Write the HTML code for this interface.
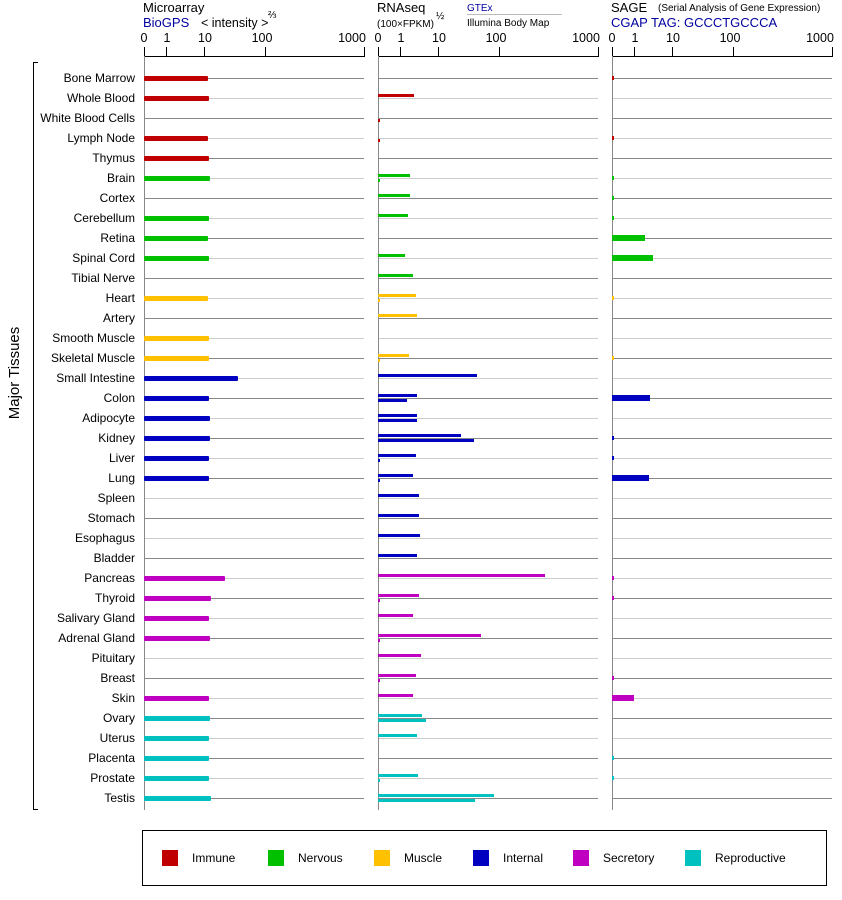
<!DOCTYPE html>
<html><head><meta charset="utf-8"><style>
html,body{margin:0;padding:0;background:#fff;}
svg{display:block;font-family:"Liberation Sans",Arial,sans-serif;}
.l{font-size:12px;text-anchor:end;fill:#000}
</style></head><body>
<svg width="842" height="900" viewBox="0 0 842 900">
<!-- headers -->
<text x="143" y="12" font-size="13">Microarray</text>
<text x="143" y="27" font-size="13" fill="#0000a0">BioGPS</text>
<text x="201" y="27" font-size="12.5">&lt; intensity &gt;</text>
<text x="268" y="18" font-size="10">⅔</text>
<text x="377" y="12" font-size="13">RNAseq</text>
<text x="377" y="27" font-size="10">(100×FPKM)</text>
<text x="436" y="19" font-size="10">½</text>
<text x="467" y="11" font-size="10" fill="#0000a0">GTEx</text>
<line x1="467" y1="14.5" x2="562" y2="14.5" stroke="#bbb"/>
<text x="467" y="26" font-size="10">Illumina Body Map</text>
<text x="611" y="12" font-size="13">SAGE</text>
<text x="658" y="11" font-size="10">(Serial Analysis of Gene Expression)</text>
<text x="611" y="27" font-size="13" fill="#0000a0">CGAP TAG: GCCCTGCCCA</text>
<!-- axes -->
<g stroke="#000" fill="none">
<path d="M144.5,47 V56.5 H364.5 V47 M166.5,47 V56 M204.5,47 V56 M265.5,47 V56"/>
<path d="M378.5,47 V56.5 H598.5 V47 M400.5,47 V56 M438.5,47 V56 M499.5,47 V56"/>
<path d="M612.5,47 V56.5 H832.5 V47 M634.5,47 V56 M672.5,47 V56 M733.5,47 V56"/>
<path d="M38,62.5 H33.5 V809.5 H38"/>
</g>
<g font-size="12.5" text-anchor="middle">
<text x="144" y="42">0</text><text x="167" y="42">1</text><text x="205" y="42">10</text><text x="262" y="42">100</text><text x="352" y="42">1000</text>
<text x="378" y="42">0</text><text x="401" y="42">1</text><text x="439" y="42">10</text><text x="496" y="42">100</text><text x="586" y="42">1000</text>
<text x="612" y="42">0</text><text x="635" y="42">1</text><text x="673" y="42">10</text><text x="730" y="42">100</text><text x="820" y="42">1000</text>
</g>
<text transform="translate(19,373) rotate(-90)" font-size="15" text-anchor="middle">Major Tissues</text>
<!-- gridlines -->
<g stroke-width="1">
<g stroke="#888"><path d="M144,78.5H364M378,78.5H598M612,78.5H832 M144,118.5H364M378,118.5H598M612,118.5H832 M144,158.5H364M378,158.5H598M612,158.5H832 M144,198.5H364M378,198.5H598M612,198.5H832 M144,238.5H364M378,238.5H598M612,238.5H832 M144,278.5H364M378,278.5H598M612,278.5H832 M144,318.5H364M378,318.5H598M612,318.5H832 M144,358.5H364M378,358.5H598M612,358.5H832 M144,398.5H364M378,398.5H598M612,398.5H832 M144,438.5H364M378,438.5H598M612,438.5H832 M144,478.5H364M378,478.5H598M612,478.5H832 M144,518.5H364M378,518.5H598M612,518.5H832 M144,558.5H364M378,558.5H598M612,558.5H832 M144,598.5H364M378,598.5H598M612,598.5H832 M144,638.5H364M378,638.5H598M612,638.5H832 M144,678.5H364M378,678.5H598M612,678.5H832 M144,718.5H364M378,718.5H598M612,718.5H832 M144,758.5H364M378,758.5H598M612,758.5H832 M144,798.5H364M378,798.5H598M612,798.5H832"/></g>
<g stroke="#ccc"><path d="M144,98.5H364M378,98.5H598M612,98.5H832 M144,138.5H364M378,138.5H598M612,138.5H832 M144,178.5H364M378,178.5H598M612,178.5H832 M144,218.5H364M378,218.5H598M612,218.5H832 M144,258.5H364M378,258.5H598M612,258.5H832 M144,298.5H364M378,298.5H598M612,298.5H832 M144,338.5H364M378,338.5H598M612,338.5H832 M144,378.5H364M378,378.5H598M612,378.5H832 M144,418.5H364M378,418.5H598M612,418.5H832 M144,458.5H364M378,458.5H598M612,458.5H832 M144,498.5H364M378,498.5H598M612,498.5H832 M144,538.5H364M378,538.5H598M612,538.5H832 M144,578.5H364M378,578.5H598M612,578.5H832 M144,618.5H364M378,618.5H598M612,618.5H832 M144,658.5H364M378,658.5H598M612,658.5H832 M144,698.5H364M378,698.5H598M612,698.5H832 M144,738.5H364M378,738.5H598M612,738.5H832 M144,778.5H364M378,778.5H598M612,778.5H832"/></g>
<path d="M144.5,56 V810 M378.5,56 V810 M612.5,56 V810" stroke="#888"/>
</g>
<!-- labels -->
<g class="l">
<text x="135" y="82">Bone Marrow</text><text x="135" y="102">Whole Blood</text><text x="135" y="122">White Blood Cells</text><text x="135" y="142">Lymph Node</text><text x="135" y="162">Thymus</text>
<text x="135" y="182">Brain</text><text x="135" y="202">Cortex</text><text x="135" y="222">Cerebellum</text><text x="135" y="242">Retina</text><text x="135" y="262">Spinal Cord</text><text x="135" y="282">Tibial Nerve</text>
<text x="135" y="302">Heart</text><text x="135" y="322">Artery</text><text x="135" y="342">Smooth Muscle</text><text x="135" y="362">Skeletal Muscle</text>
<text x="135" y="382">Small Intestine</text><text x="135" y="402">Colon</text><text x="135" y="422">Adipocyte</text><text x="135" y="442">Kidney</text><text x="135" y="462">Liver</text><text x="135" y="482">Lung</text><text x="135" y="502">Spleen</text><text x="135" y="522">Stomach</text><text x="135" y="542">Esophagus</text><text x="135" y="562">Bladder</text>
<text x="135" y="582">Pancreas</text><text x="135" y="602">Thyroid</text><text x="135" y="622">Salivary Gland</text><text x="135" y="642">Adrenal Gland</text><text x="135" y="662">Pituitary</text><text x="135" y="682">Breast</text><text x="135" y="702">Skin</text>
<text x="135" y="722">Ovary</text><text x="135" y="742">Uterus</text><text x="135" y="762">Placenta</text><text x="135" y="782">Prostate</text><text x="135" y="802">Testis</text>
</g>
<!-- microarray bars -->
<g>
<g fill="#c00000"><rect x="144" y="76" width="64" height="5" rx="1"/><rect x="144" y="96" width="65" height="5" rx="1"/><rect x="144" y="136" width="64" height="5" rx="1"/><rect x="144" y="156" width="65" height="5" rx="1"/></g>
<g fill="#00c000"><rect x="144" y="176" width="66" height="5" rx="1"/><rect x="144" y="216" width="65" height="5" rx="1"/><rect x="144" y="236" width="64" height="5" rx="1"/><rect x="144" y="256" width="65" height="5" rx="1"/></g>
<g fill="#ffc000"><rect x="144" y="296" width="64" height="5" rx="1"/><rect x="144" y="336" width="65" height="5" rx="1"/><rect x="144" y="356" width="65" height="5" rx="1"/></g>
<g fill="#0000c0"><rect x="144" y="376" width="94" height="5" rx="1"/><rect x="144" y="396" width="65" height="5" rx="1"/><rect x="144" y="416" width="66" height="5" rx="1"/><rect x="144" y="436" width="66" height="5" rx="1"/><rect x="144" y="456" width="65" height="5" rx="1"/><rect x="144" y="476" width="65" height="5" rx="1"/></g>
<g fill="#c000c0"><rect x="144" y="576" width="81" height="5" rx="1"/><rect x="144" y="596" width="67" height="5" rx="1"/><rect x="144" y="616" width="65" height="5" rx="1"/><rect x="144" y="636" width="66" height="5" rx="1"/><rect x="144" y="696" width="65" height="5" rx="1"/></g>
<g fill="#00c0c0"><rect x="144" y="716" width="66" height="5" rx="1"/><rect x="144" y="736" width="65" height="5" rx="1"/><rect x="144" y="756" width="65" height="5" rx="1"/><rect x="144" y="776" width="65" height="5" rx="1"/><rect x="144" y="796" width="67" height="5" rx="1"/></g>
</g>
<!-- RNAseq bars -->
<g>
<g fill="#c00000"><rect x="378" y="94" width="36" height="3"/><rect x="378" y="119" width="2" height="3"/><rect x="378" y="139" width="2" height="3"/></g>
<g fill="#00c000"><rect x="378" y="174" width="32" height="3"/><rect x="378" y="179" width="2" height="3"/><rect x="378" y="194" width="32" height="3"/><rect x="378" y="214" width="30" height="3"/><rect x="378" y="254" width="27" height="3"/><rect x="378" y="274" width="35" height="3"/></g>
<g fill="#ffc000"><rect x="378" y="294" width="38" height="3"/><rect x="378" y="299" width="2" height="3"/><rect x="378" y="314" width="39" height="3"/><rect x="378" y="354" width="31" height="3"/><rect x="378" y="359" width="2" height="3"/></g>
<g fill="#0000c0"><rect x="378" y="374" width="99" height="3"/><rect x="378" y="394" width="39" height="3"/><rect x="378" y="399" width="29" height="3"/><rect x="378" y="414" width="39" height="3"/><rect x="378" y="419" width="39" height="3"/><rect x="378" y="434" width="83" height="3"/><rect x="378" y="439" width="96" height="3"/><rect x="378" y="454" width="38" height="3"/><rect x="378" y="459" width="2" height="3"/><rect x="378" y="474" width="35" height="3"/><rect x="378" y="479" width="2" height="3"/><rect x="378" y="494" width="41" height="3"/><rect x="378" y="514" width="41" height="3"/><rect x="378" y="534" width="42" height="3"/><rect x="378" y="554" width="39" height="3"/></g>
<g fill="#c000c0"><rect x="378" y="574" width="167" height="3"/><rect x="378" y="594" width="41" height="3"/><rect x="378" y="599" width="2" height="3"/><rect x="378" y="614" width="35" height="3"/><rect x="378" y="634" width="103" height="3"/><rect x="378" y="639" width="2" height="3"/><rect x="378" y="654" width="43" height="3"/><rect x="378" y="674" width="38" height="3"/><rect x="378" y="679" width="2" height="3"/><rect x="378" y="694" width="35" height="3"/></g>
<g fill="#00c0c0"><rect x="378" y="714" width="44" height="3"/><rect x="378" y="719" width="48" height="3"/><rect x="378" y="734" width="39" height="3"/><rect x="378" y="774" width="40" height="3"/><rect x="378" y="779" width="2" height="3"/><rect x="378" y="794" width="116" height="3"/><rect x="378" y="799" width="97" height="3"/></g>
</g>
<!-- SAGE bars -->
<g>
<g fill="#c00000"><rect x="612" y="76" width="2" height="4"/><rect x="612" y="136" width="2" height="4"/></g>
<g fill="#00c000"><rect x="612" y="176" width="2" height="4"/><rect x="612" y="196" width="2" height="4"/><rect x="612" y="216" width="2" height="4"/><rect x="612" y="235" width="33" height="6"/><rect x="612" y="255" width="41" height="6"/></g>
<g fill="#ffc000"><rect x="612" y="296" width="2" height="4"/><rect x="612" y="356" width="2" height="4"/></g>
<g fill="#0000c0"><rect x="612" y="395" width="38" height="6"/><rect x="612" y="436" width="2" height="4"/><rect x="612" y="456" width="2" height="4"/><rect x="612" y="475" width="37" height="6"/></g>
<g fill="#c000c0"><rect x="612" y="576" width="2" height="4"/><rect x="612" y="596" width="2" height="4"/><rect x="612" y="676" width="2" height="4"/><rect x="612" y="695" width="22" height="6"/></g>
<g fill="#00c0c0"><rect x="612" y="756" width="2" height="4"/><rect x="612" y="776" width="2" height="4"/></g>
</g>
<!-- legend -->
<rect x="142.5" y="830.5" width="684" height="55" fill="none" stroke="#000"/>
<g font-size="12">
<rect x="162" y="850" width="16" height="16" fill="#c00000"/><text x="192" y="862">Immune</text>
<rect x="268" y="850" width="16" height="16" fill="#00c000"/><text x="298" y="862">Nervous</text>
<rect x="374" y="850" width="16" height="16" fill="#ffc000"/><text x="404" y="862">Muscle</text>
<rect x="473" y="850" width="16" height="16" fill="#0000c0"/><text x="503" y="862">Internal</text>
<rect x="573" y="850" width="16" height="16" fill="#c000c0"/><text x="603" y="862">Secretory</text>
<rect x="685" y="850" width="16" height="16" fill="#00c0c0"/><text x="715" y="862">Reproductive</text>
</g>
</svg>
</body></html>
